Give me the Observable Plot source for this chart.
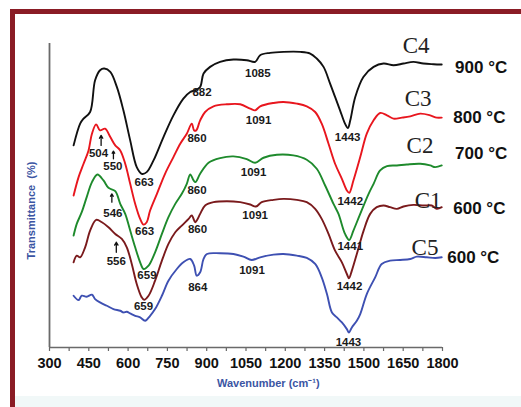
<!DOCTYPE html>
<html><head><meta charset="utf-8">
<script src="https://cdn.jsdelivr.net/npm/d3@7"></script>
<script src="https://cdn.jsdelivr.net/npm/@observablehq/plot@0.6"></script>
<style>
html,body{margin:0;padding:0;background:#fff;}
#wrap{position:relative;width:521px;height:407px;overflow:hidden;}
#wrap svg{position:absolute;left:0;top:0;}
#frame{position:absolute;left:10px;top:9px;right:-10px;bottom:-10px;border-top:5px solid #8a1c25;border-left:5px solid #8a1c25;}
#band{position:absolute;left:15px;right:0;top:396px;bottom:0;background:#f1f8f8;}
</style></head><body><div id="wrap"></div>
<script>
// [wavenumber (cm-1), transmittance (arbitrary, offset as plotted)]
const C4 = [[392,60.5],[417,67.0],[430,68.5],[455,70.5],[474,80.0],[493,83.0],[509,83.5],[532,82.5],[557,78.0],[582,71.0],[608,62.0],[633,54.0],[652,52.0],[671,52.5],[697,56.0],[735,63.0],[773,69.5],[811,74.5],[837,76.5],[856,77.0],[875,78.0],[888,82.0],[913,84.0],[951,85.5],[1002,86.2],[1053,86.0],[1085,85.5],[1104,87.5],[1142,88.2],[1193,88.5],[1257,88.5],[1295,88.0],[1320,86.5],[1346,84.0],[1371,79.0],[1390,75.0],[1409,71.0],[1428,67.0],[1439,65.7],[1448,68.0],[1467,75.0],[1498,81.0],[1537,84.0],[1575,85.0],[1613,84.5],[1651,85.0],[1689,85.5],[1727,85.0],[1766,84.8],[1797,84.7]];
const C3 = [[392,45.5],[411,51.0],[430,55.0],[449,59.0],[462,64.0],[478,66.8],[493,65.0],[512,65.5],[532,63.0],[551,60.5],[570,59.0],[589,55.0],[608,49.0],[627,43.0],[646,38.5],[659,36.8],[671,37.5],[684,41.0],[710,46.0],[741,52.0],[773,57.0],[799,61.0],[824,64.0],[843,67.0],[852,65.0],[860,65.0],[875,68.0],[894,70.5],[926,72.2],[977,72.8],[1028,72.8],[1066,71.5],[1085,71.0],[1104,72.2],[1155,73.2],[1193,73.5],[1244,73.0],[1282,72.2],[1314,70.5],[1339,67.0],[1365,61.0],[1390,55.0],[1416,50.5],[1435,47.0],[1444,46.3],[1460,50.0],[1486,57.0],[1511,64.0],[1537,68.0],[1562,70.2],[1588,69.5],[1613,68.5],[1645,68.8],[1677,69.2],[1715,70.0],[1753,69.5],[1778,68.8],[1797,68.8]];
const C2 = [[392,33.5],[404,37.0],[423,40.5],[442,45.0],[462,49.5],[483,51.8],[506,50.0],[525,47.8],[551,46.8],[570,43.0],[589,40.0],[608,35.0],[627,30.0],[646,25.5],[659,23.5],[678,24.5],[703,28.5],[729,34.0],[754,39.0],[780,43.0],[805,46.0],[824,49.0],[837,51.8],[850,50.0],[857,49.5],[875,52.0],[907,55.3],[951,56.7],[1002,57.2],[1053,56.4],[1085,55.3],[1117,56.8],[1168,57.7],[1231,57.5],[1282,56.2],[1320,53.5],[1352,48.5],[1384,43.0],[1403,40.0],[1428,34.0],[1444,32.2],[1460,35.0],[1486,40.0],[1518,46.0],[1537,49.0],[1562,53.0],[1588,54.3],[1626,54.5],[1664,54.8],[1715,55.0],[1753,54.5],[1772,54.0],[1797,54.5]];
const C1 = [[392,25.5],[404,27.5],[417,27.0],[436,30.0],[455,35.0],[478,38.2],[500,37.5],[525,36.0],[551,34.0],[576,32.5],[595,30.0],[614,25.0],[633,19.0],[652,15.0],[661,14.3],[678,15.5],[703,20.0],[729,26.0],[754,31.0],[780,34.5],[805,36.5],[831,38.5],[843,39.5],[856,37.5],[862,38.0],[875,40.0],[894,42.5],[926,43.5],[977,43.8],[1028,43.5],[1066,42.8],[1088,42.2],[1110,43.5],[1155,44.2],[1193,44.5],[1244,44.2],[1282,43.5],[1314,41.5],[1339,38.5],[1365,34.0],[1390,29.0],[1416,25.5],[1435,22.0],[1443,20.7],[1454,23.0],[1473,28.0],[1499,35.0],[1524,40.0],[1549,42.0],[1575,42.5],[1600,42.0],[1626,41.5],[1651,42.2],[1689,42.7],[1728,42.5],[1759,42.5],[1778,41.5],[1797,42.0]];
const C5 = [[392,15.5],[411,14.2],[423,15.5],[442,15.2],[462,15.8],[474,14.5],[493,13.5],[519,12.5],[544,11.5],[570,11.0],[582,10.5],[595,10.7],[608,10.2],[627,9.5],[646,9.0],[665,8.0],[684,9.5],[703,11.5],[729,15.5],[754,20.0],[786,23.5],[811,25.5],[837,26.5],[852,24.5],[862,21.5],[875,22.5],[888,26.5],[901,28.0],[951,28.2],[1002,28.0],[1040,27.2],[1072,26.2],[1104,27.0],[1155,27.8],[1193,28.0],[1244,27.5],[1282,26.8],[1314,25.0],[1339,21.0],[1359,16.0],[1378,10.5],[1397,9.0],[1416,7.5],[1435,5.5],[1443,4.5],[1454,6.0],[1473,8.0],[1486,10.0],[1511,16.0],[1543,21.0],[1568,25.0],[1600,26.0],[1638,26.2],[1677,26.5],[1702,27.2],[1740,27.0],[1772,26.8],[1797,27.0]];

const seriesNames = ["C4","C3","C2","C1","C5"];
const seriesData = [C4, C3, C2, C1, C5];
const seriesColors = ["#111111","#e8161e","#1e8a2c","#7a1a1c","#3e50b2"];
const tempLabels = ["900 °C","800 °C","700 °C","600 °C","600 °C"];
// label anchors [wavenumber, transmittance]
const nameAnchors = [[1648,90.3],[1656,74.5],[1663,60.5],[1694,44.0],[1682,29.8]];
const tempAnchors = [[1848,83.9],[1841,68.9],[1848,58.1],[1841,41.6],[1818,26.9]];

// peak annotations [label, wavenumber, transmittance]
const peakLabels = [
  ["663",661,49.4],["882",882,76.5],["1085",1095,82.2],["1443",1438,63.0],
  ["504",487,58.2],["550",542,54.2],["860",863,62.5],["663",663,34.7],["1091",1098,68.0],["1442",1448,43.8],
  ["546",542,40.3],["860",863,47.0],["659",672,21.5],["1091",1079,52.3],["1441",1448,30.2],
  ["556",555,25.7],["860",865,35.3],["659",659,12.3],["1091",1085,39.7],["1442",1445,18.3],
  ["864",866,18.0],["1091",1073,23.2],["1443",1441,1.5]
];
// arrows [wavenumber, base, tip]
const peakArrows = [[497,60.5,63.5],[544,56.5,58.8],[538,43.5,46.0],[555,28.5,31.5]];

const xTicks = d3.range(300, 1801, 75);
const xTitle = "Wavenumber (cm⁻¹)";
const yTitle = "Transmittance  (%)";

const rows = [];
seriesData.forEach((arr, i) => arr.forEach(([w, t]) => rows.push({series: seriesNames[i], w, t})));
const names = seriesNames.map((s, i) => ({s, w: nameAnchors[i][0], t: nameAnchors[i][1]}));
const temps = tempLabels.map((s, i) => ({s, w: tempAnchors[i][0], t: tempAnchors[i][1]}));
const peaks = peakLabels.map(([s, w, t]) => ({s, w, t}));
const arrows = peakArrows.map(([w, b, tip]) => ({w, b, tip}));

const chart = Plot.plot({
  width: 521, height: 407,
  marginLeft: 49, marginRight: 79, marginTop: 43, marginBottom: 60,
  style: {fontFamily: "'Liberation Sans', Arial, sans-serif", background: "transparent", overflow: "visible"},
  x: {domain: [300, 1800]},
  y: {domain: [0, 91], axis: null},
  color: {domain: seriesNames, range: seriesColors},
  marks: [
    Plot.axisX({ticks: xTicks, tickSize: 4, tickPadding: 6, tickFormat: d => d % 150 === 0 ? String(d) : "",
      fontSize: 14.5, fontWeight: "bold", fill: "#111", stroke: "#666", strokeWidth: 1.2, label: null}),
    Plot.ruleY([0], {stroke: "#6a6a6a", strokeWidth: 1.6}),
    Plot.ruleX([300], {y1: 0, y2: 91, stroke: "#6a6a6a", strokeWidth: 1.8}),
    Plot.line(rows, {x: "w", y: "t", z: "series", stroke: "series", strokeWidth: 1.9, curve: "catmull-rom"}),
    Plot.text(peaks, {x: "w", y: "t", text: "s", fontSize: 11.5, fontWeight: "bold", fill: "#1a1a1a", lineAnchor: "middle"}),
    Plot.arrow(arrows, {x: "w", y1: "b", y2: "tip", stroke: "#111", strokeWidth: 1.3, headLength: 5, bend: 0}),
    Plot.text(names, {x: "w", y: "t", text: "s", textAnchor: "start", lineAnchor: "middle", fontSize: 23,
      fontFamily: "'Liberation Serif', 'Times New Roman', serif", fill: "#222"}),
    Plot.text(temps, {x: "w", y: "t", text: "s", textAnchor: "start", lineAnchor: "middle", fontSize: 17,
      fontWeight: "bold", fill: "#111"}),
    Plot.text([xTitle], {x: 1135, y: 0, dy: 36, text: d => d, fontSize: 11, fontWeight: "bold", fill: "#3b55a3", lineAnchor: "middle"}),
    Plot.text([yTitle], {x: 300, y: 41, dx: -18, rotate: -90, text: d => d, fontSize: 11, fontWeight: "bold", fill: "#3b55a3", lineAnchor: "middle"})
  ]
});
const wrap = document.getElementById("wrap");
wrap.appendChild(chart);
const band = document.createElement("div"); band.id = "band"; wrap.appendChild(band);
const frame = document.createElement("div"); frame.id = "frame"; wrap.appendChild(frame);
</script></body></html>
